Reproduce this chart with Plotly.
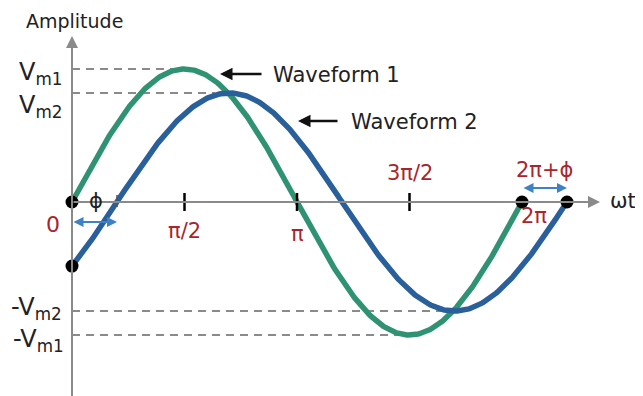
import numpy as np
import plotly.graph_objects as go

# ---- data ----
vm1 = 1.0            # amplitude of waveform 1
vm2 = 0.82           # amplitude of waveform 2
phi = np.pi / 5      # phase lag of waveform 2 (rad)
tick_positions = [np.pi / 2, np.pi, 3 * np.pi / 2]
tick_labels = ["π/2", "π", "3π/2"]
series_names = ["Waveform 1", "Waveform 2"]

GREEN = "#2f9373"
BLUE = "#295f9b"
LBLUE = "#3d82c4"
RED = "#a8252d"
GRAY = "#8a8a8a"

PAGE_W, PAGE_H = 643, 396
OFF = 8                    # default page margin around the plot div
X0, Y0 = 72, 202           # page-pixel origin
SX = 450 / (2 * np.pi)     # px per rad
SY = 133                   # px per unit amplitude

def X(px):
    return (px - X0) / SX

def Y(py):
    return (Y0 - py) / SY

theta1 = np.linspace(0, 2 * np.pi, 400)
theta2 = np.linspace(0, 2 * np.pi + phi, 420)
w1 = vm1 * np.sin(theta1)
w2 = vm2 * np.sin(theta2 - phi)

fig = go.Figure()

# dashed guide lines
guides = [(vm1, np.pi / 2 + 0.1), (vm2, np.pi / 2 + phi - 0.2),
          (-vm2, 3 * np.pi / 2 + phi - 0.12), (-vm1, 3 * np.pi / 2 - 0.05)]
for v, xe in guides:
    fig.add_trace(go.Scatter(x=[0, xe], y=[v, v], mode="lines",
                             line=dict(color=GRAY, width=2, dash="8px,6px"),
                             hoverinfo="skip", showlegend=False))

fig.add_trace(go.Scatter(x=theta1, y=w1, mode="lines", name=series_names[0],
                         line=dict(color=GREEN, width=5.5), showlegend=False))
fig.add_trace(go.Scatter(x=theta2, y=w2, mode="lines", name=series_names[1],
                         line=dict(color=BLUE, width=5.5), showlegend=False))

# dots
fig.add_trace(go.Scatter(x=[0, 0, 2 * np.pi, 2 * np.pi + phi],
                         y=[0, vm2 * np.sin(-phi), 0, 0], mode="markers",
                         marker=dict(color="black", size=13),
                         hoverinfo="skip", showlegend=False))

ann = []
# axes with arrows
ann.append(dict(x=0, y=Y(36), ax=0, ay=Y(400), xref="x", yref="y", axref="x", ayref="y",
                showarrow=True, arrowhead=2, arrowsize=1.2, arrowwidth=2, arrowcolor=GRAY, text=""))
ann.append(dict(x=X(600), y=0, ax=0, ay=0, xref="x", yref="y", axref="x", ayref="y",
                showarrow=True, arrowhead=2, arrowsize=1.2, arrowwidth=2, arrowcolor=GRAY, text=""))

shapes = []
for t in tick_positions:
    shapes.append(dict(type="line", x0=t, x1=t, y0=Y(193), y1=Y(211),
                       line=dict(color="black", width=2.5), layer="above"))
shapes.append(dict(type="line", x0=phi, x1=phi, y0=Y(195), y1=Y(207),
                   line=dict(color="#555", width=1.5), layer="above"))

F = "DejaVu Sans"
def txt(x, y, s, size, color="#222", xanchor="center"):
    ann.append(dict(x=x, y=y, xref="x", yref="y", text=s, showarrow=False,
                    font=dict(family=F, size=size, color=color), xanchor=xanchor, yanchor="middle"))

txt(X(74), Y(21), "Amplitude", 19)
txt(X(40), Y(73), "V<sub>m1</sub>", 24)
txt(X(40), Y(106), "V<sub>m2</sub>", 24)
txt(X(36), Y(308), "-V<sub>m2</sub>", 24)
txt(X(38), Y(340), "-V<sub>m1</sub>", 24)

txt(X(53), Y(224), "0", 22, RED)
txt(X(96), Y(201), "ϕ", 21, "#222")
txt(tick_positions[0], Y(231), tick_labels[0], 21, RED)
txt(tick_positions[1], Y(234), tick_labels[1], 21, RED)
txt(tick_positions[2], Y(173), tick_labels[2], 21, RED)
txt(X(544), Y(170), "2π+ϕ", 21, RED)
txt(X(534), Y(216), "2π", 21, RED)
txt(X(623), Y(201), "ωt", 21, "#222")

txt(X(271), Y(75), series_names[0], 21, "#222", "left")
txt(X(349), Y(122), series_names[1], 21, "#222", "left")

# pointer arrows
ann.append(dict(x=X(220), y=Y(74), ax=X(263), ay=Y(74), xref="x", yref="y", axref="x", ayref="y",
                showarrow=True, arrowhead=2, arrowsize=1, arrowwidth=2.5, arrowcolor="#111", text=""))
ann.append(dict(x=X(298), y=Y(121), ax=X(339), ay=Y(121), xref="x", yref="y", axref="x", ayref="y",
                showarrow=True, arrowhead=2, arrowsize=1, arrowwidth=2.5, arrowcolor="#111", text=""))

# phase double arrows
ann.append(dict(x=phi, y=Y(222), ax=0, ay=Y(222), xref="x", yref="y", axref="x", ayref="y",
                showarrow=True, arrowhead=2, startarrowhead=2, arrowside="end+start",
                arrowsize=1, arrowwidth=2, arrowcolor=LBLUE, text=""))
ann.append(dict(x=2 * np.pi + phi, y=Y(188), ax=2 * np.pi, ay=Y(188), xref="x", yref="y",
                axref="x", ayref="y", showarrow=True, arrowhead=2, startarrowhead=2,
                arrowside="end+start", arrowsize=1, arrowwidth=2, arrowcolor=LBLUE, text=""))

fig.update_layout(
    width=PAGE_W - OFF, height=PAGE_H - OFF, autosize=False,
    margin=dict(l=0, r=0, t=0, b=0),
    paper_bgcolor="white", plot_bgcolor="white",
    xaxis=dict(range=[X(OFF), X(PAGE_W)], visible=False, fixedrange=True),
    yaxis=dict(range=[Y(PAGE_H), Y(OFF)], visible=False, fixedrange=True),
    annotations=ann, shapes=shapes, showlegend=False,
)

fig.write_html("out.html", config={"displayModeBar": False})
